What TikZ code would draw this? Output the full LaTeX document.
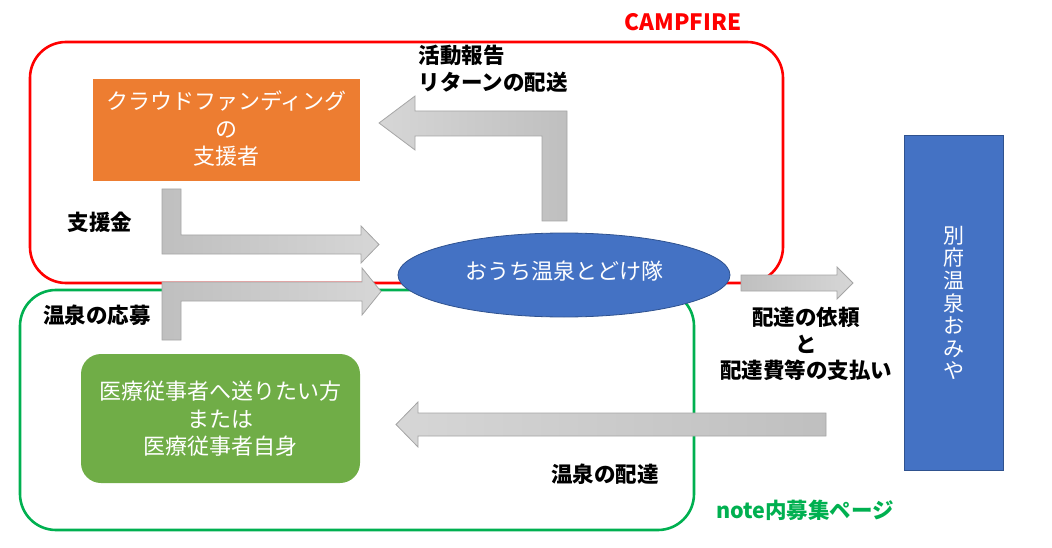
\documentclass[tikz,border=0pt]{standalone}
\usepackage{fontspec}
\setmainfont{Noto Sans CJK JP}
\usetikzlibrary{shapes.geometric}
\definecolor{cfred}{HTML}{FF0000}
\definecolor{ngreen}{HTML}{00B050}
\definecolor{orangebox}{HTML}{ED7D31}
\definecolor{bluebox}{HTML}{4472C4}
\definecolor{blueedge}{HTML}{2F528F}
\definecolor{greenbox}{HTML}{70AD47}
\definecolor{arrowedge}{HTML}{A5A5A5}
\tikzset{
  frame/.style={line width=2.6pt, rounded corners=36pt},
  boxtext/.style={text=white, align=center, font=\fontsize{22}{27.5}\selectfont},
  lbl/.style={font=\bfseries\fontsize{21.5}{26.5}\selectfont, text=black},
  blockarrowR/.style={draw=arrowedge, line width=0.8pt, left color=black!25, right color=black!16},
  blockarrowL/.style={draw=arrowedge, line width=0.8pt, left color=black!16, right color=black!25},
}
\begin{document}
\begin{tikzpicture}[x=1pt,y=-1pt]
\useasboundingbox (0,0) rectangle (1052,548);

% frames
\draw[frame, draw=cfred] (30,42) rectangle (783,283);
\draw[frame, draw=ngreen] (20,290) rectangle (694,530);

\node[font=\bfseries\fontsize{22.5}{26}\selectfont, text=cfred] (campfire) at (683,22) {CAMPFIRE};
\node[font=\bfseries\fontsize{21.5}{26}\selectfont, text=ngreen] (notepage) at (805,510) {note内募集ページ};

% boxes
\node[fill=orangebox, minimum width=267pt, minimum height=102pt, inner sep=0pt] (supporter) at (226.5,130) {};
\node[boxtext] at (226.5,129) {クラウドファンディング\\の\\支援者};

\node[fill=greenbox, rounded corners=20pt, minimum width=279pt, minimum height=129pt, inner sep=0pt] (medical) at (220.5,418.5) {};
\node[boxtext] at (220.5,419) {医療従事者へ送りたい方\\または\\医療従事者自身};

\node[fill=bluebox, draw=blueedge, line width=0.8pt, minimum width=99pt, minimum height=335pt, inner sep=0pt] (omiya) at (953.5,302.5) {};
\node[text=white, align=center, font=\fontsize{21}{22.6}\selectfont] at (953.5,303) {別\\府\\温\\泉\\お\\み\\や};

% arrows (block arrows)
% return arrow (up then left)
\draw[blockarrowL] (567,221) -- (567,111) -- (415,111) -- (415,96) -- (379,123) -- (415,150) -- (415,136) -- (542,136) -- (542,221) -- cycle;
% support money arrow
\draw[blockarrowR] (162,189) -- (181,189) -- (181,235) -- (361,235) -- (361,226) -- (379,244.5) -- (361,263) -- (361,254) -- (162,254) -- cycle;

% ellipse
\node[ellipse, fill=bluebox, draw=blueedge, line width=0.8pt, minimum width=332pt, minimum height=84pt, inner sep=0pt] (team) at (564,275) {};
\node[text=white, font=\fontsize{22}{24}\selectfont] at (564,271) {おうち温泉とどけ隊};

% application arrow
\draw[blockarrowR] (162,340) -- (162,282) -- (362,282) -- (362,268) -- (381,291.5) -- (362,315) -- (362,301) -- (181,301) -- (181,340) -- cycle;
% request arrow
\draw[blockarrowR] (741,275) -- (837,275) -- (837,267) -- (853,283) -- (837,299) -- (837,291) -- (741,291) -- cycle;
% delivery arrow
\draw[blockarrowL] (826,413) -- (418,413) -- (418,402) -- (396,424.5) -- (418,447) -- (418,436) -- (826,436) -- cycle;

% labels
\node[lbl, align=left, anchor=west] (report) at (415,68.5) {活動報告\\リターンの配送};
\node[lbl] (money) at (100,222) {支援金};
\node[lbl] (apply) at (97,315) {温泉の応募};
\node[lbl, align=center] (request) at (806,344) {配達の依頼\\と\\配達費等の支払い};
\node[lbl] (deliver) at (605,474) {温泉の配達};
\end{tikzpicture}
\end{document}
